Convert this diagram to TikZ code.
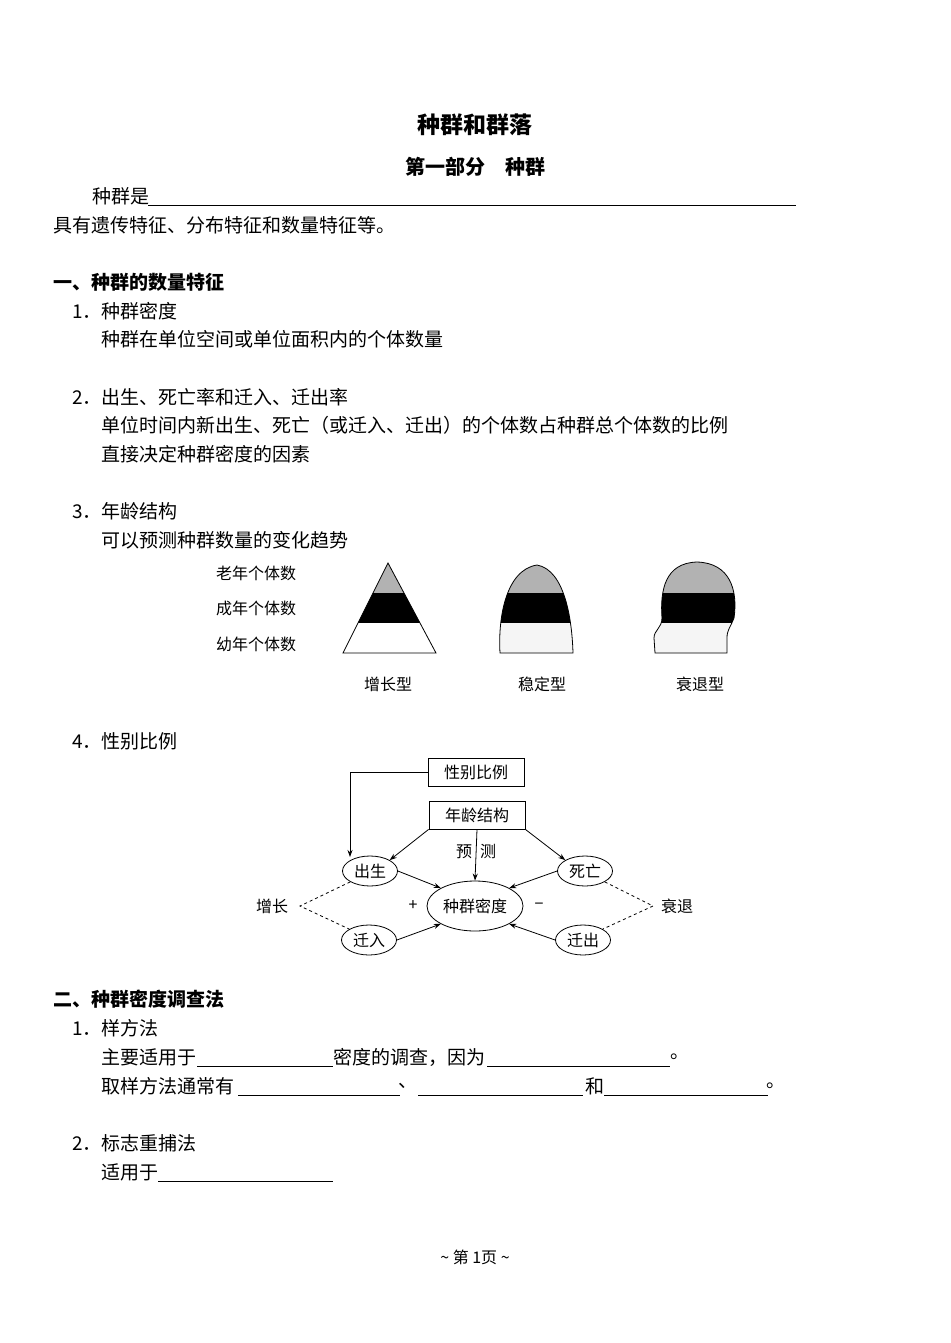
\documentclass[tikz,border=0pt]{standalone}
\usepackage{fontspec}
\setmainfont{Noto Sans CJK SC}
\usetikzlibrary{arrows.meta,shapes.geometric}
\begin{document}
\begin{tikzpicture}[x=1pt,y=-1pt,
  txt/.style={anchor=west,inner sep=0pt,font=\fontsize{19}{22}\selectfont},
  hd/.style={txt,font=\fontsize{19}{22}\selectfont\bfseries},
  sm/.style={inner sep=0pt,font=\fontsize{16}{19}\selectfont},
  bx/.style={draw,thick,minimum width=96pt,minimum height=28pt,inner sep=0pt,font=\fontsize{16}{19}\selectfont},
  el/.style={draw,thick,ellipse,minimum width=55pt,minimum height=30pt,inner sep=0pt,font=\fontsize{16}{19}\selectfont},
  ar/.style={-{Stealth[length=7pt,width=5pt]},thick},
  bl/.style={line width=0.6pt}]
\useasboundingbox (0,0) rectangle (950,1343);
\fill[white] (0,0) rectangle (950,1343);
\node[inner sep=0pt,font=\fontsize{23}{26}\selectfont\bfseries] (title) at (475,125) {种群和群落};
\node[inner sep=0pt,font=\fontsize{20}{24}\selectfont\bfseries] (sub) at (475,167) {第一部分\quad 种群};
\node[txt] (a1) at (92,196) {种群是};
\coordinate (u1a) at (148,205); \coordinate (u1b) at (796,205); \draw[bl] (u1a)--(u1b);
\node[txt] (a2) at (53,225) {具有遗传特征、分布特征和数量特征等。};
\node[hd] (h1) at (53,282) {一、种群的数量特征};
\node[txt] (b1) at (72,311) {1．种群密度};
\node[txt] (b2) at (101,339) {种群在单位空间或单位面积内的个体数量};
\node[txt] (c1) at (72,397) {2．出生、死亡率和迁入、迁出率};
\node[txt] (c2) at (101,425) {单位时间内新出生、死亡（或迁入、迁出）的个体数占种群总个体数的比例};
\node[txt] (c3) at (101,454) {直接决定种群密度的因素};
\node[txt] (d1) at (72,511) {3．年龄结构};
\node[txt] (d2) at (101,540) {可以预测种群数量的变化趋势};
\node[sm,anchor=west] (l1) at (216,573) {老年个体数};
\node[sm,anchor=west] (l2) at (216,608) {成年个体数};
\node[sm,anchor=west] (l3) at (216,644) {幼年个体数};
% pyramid 1
\begin{scope}
\clip (388,563)--(436,653)--(343,653)--cycle;
\fill[gray!60] (330,555) rectangle (450,593);
\fill[black] (330,593) rectangle (450,623);
\end{scope}
\draw[thick] (388,563)--(436,653)--(343,653)--cycle;
% pyramid 2
\def\stab{(500,653) .. controls (498,620) and (505,570) .. (537,565) .. controls (565,570) and (572,620) .. (573,653) -- cycle}
\begin{scope}
\clip \stab;
\fill[gray!60] (490,555) rectangle (590,593);
\fill[black] (490,593) rectangle (590,623);
\fill[gray!8] (490,623) rectangle (590,660);
\end{scope}
\draw[thick] \stab;
% pyramid 3
\def\dec{(655,653) -- (654,638) .. controls (654,630) and (662,628) .. (662,618) .. controls (660,590) and (665,563) .. (697,562) .. controls (730,563) and (738,590) .. (734,618) .. controls (730,628) and (727,630) .. (727,638) -- (727,653) -- cycle}
\begin{scope}
\clip \dec;
\fill[gray!60] (640,555) rectangle (750,593);
\fill[black] (640,593) rectangle (750,623);
\fill[gray!8] (640,623) rectangle (750,660);
\end{scope}
\draw[thick] \dec;
\node[sm] (p1) at (388,684) {增长型};
\node[sm] (p2) at (542,684) {稳定型};
\node[sm] (p3) at (700,684) {衰退型};
\node[txt] (e1) at (72,741) {4．性别比例};
% diagram
\node[bx] (sex) at (476,772) {性别比例};
\node[bx] (age) at (477,815) {年龄结构};
\node[el] (born) at (370,871) {出生};
\node[el] (die) at (585,871) {死亡};
\node[el] (inn) at (369,940) {迁入};
\node[el] (out) at (583,940) {迁出};
\node[draw,thick,ellipse,minimum width=96pt,minimum height=50pt,inner sep=0pt,font=\fontsize{16}{19}\selectfont] (den) at (475,906) {种群密度};
\node[sm] (grow) at (272,906) {增长};
\node[sm] (decl) at (677,906) {衰退};
\node[sm] (plus) at (413,906) {+};
\node[sm] (minus) at (539,906) {−};
\node[sm] (pred) at (476,851) {预\hspace{8pt}测};
\coordinate (gl) at (300,906); \coordinate (dr) at (653,906);
\coordinate (c0) at (350,772);
\coordinate (c1) at (350,857);
\draw[ar] (sex.west)--(c0)--(c1);
\draw[ar] (age.south west)--(born.north east);
\draw[ar] (age.south east)--(die.north west);
\draw[ar] (age.south)--(den.north);
\draw[ar] (born.east)--(den.north west);
\draw[ar] (die.west)--(den.north east);
\draw[ar] (inn.east)--(den.south west);
\draw[ar] (out.west)--(den.south east);
\draw[dashed,thick] (born.south west)--(gl)--(inn.north west);
\draw[dashed,thick] (die.south east)--(dr)--(out.north east);
\node[hd] (h2) at (53,999) {二、种群密度调查法};
\node[txt] (f1) at (72,1028) {1．样方法};
\node[txt] (f2) at (101,1057) {主要适用于};
\draw[bl] (197,1066)--(333,1066);
\node[txt] (f3) at (333,1057) {密度的调查，因为};
\draw[bl] (487,1066)--(670,1066);
\node[txt] (f4) at (670,1057) {。};
\node[txt] (g1) at (101,1086) {取样方法通常有};
\draw[bl] (238,1095)--(400,1095);
\node[txt] (g2) at (398,1086) {、};
\draw[bl] (418,1095)--(583,1095);
\node[txt] (g3) at (585,1086) {和};
\draw[bl] (604,1095)--(768,1095);
\node[txt] (g4) at (766,1086) {。};
\node[txt] (k1) at (72,1143) {2．标志重捕法};
\node[txt] (k2) at (101,1172) {适用于};
\draw[bl] (158,1181)--(333,1181);
\node[inner sep=0pt,font=\fontsize{16}{19}\selectfont] (pg) at (475,1257) {\textasciitilde{} 第 1页 \textasciitilde};
\end{tikzpicture}
\end{document}
